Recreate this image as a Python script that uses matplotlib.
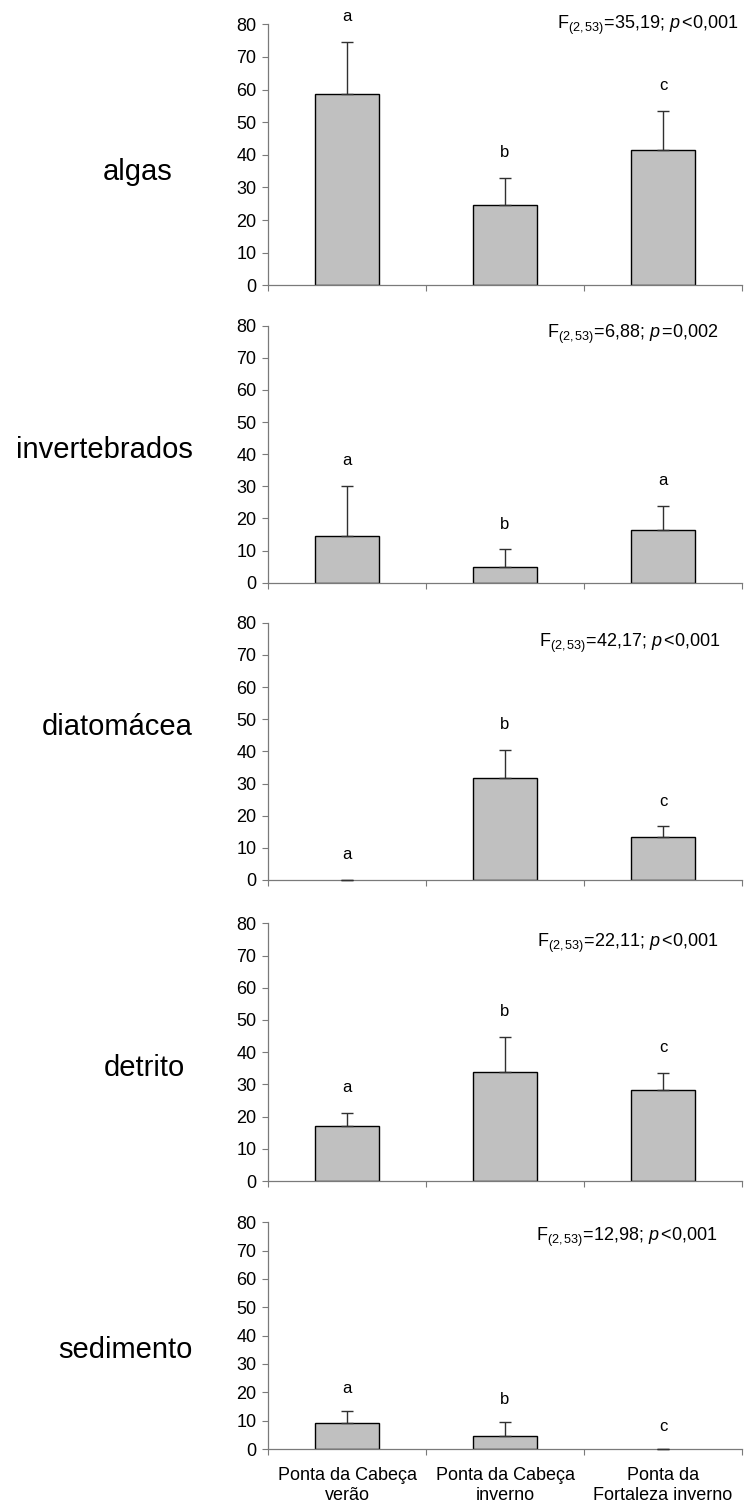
import matplotlib
matplotlib.use("Agg")
import matplotlib.pyplot as plt
import numpy as np

plt.rcParams['font.family'] = ['Liberation Sans', 'DejaVu Sans']
plt.rcParams['mathtext.fontset'] = 'custom'
plt.rcParams['mathtext.rm'] = 'Liberation Sans'
plt.rcParams['mathtext.it'] = 'Liberation Sans:italic'

# ---------------- data ----------------
categories = ["Ponta da Cabeça\nverão", "Ponta da Cabeça\ninverno", "Ponta da\nFortaleza inverno"]
panel_names = ["algas", "invertebrados", "diatomácea", "detrito", "sedimento"]

algas_mean = [58.5, 24.6, 41.6]
algas_err = [16.2, 8.2, 11.7]
invert_mean = [14.6, 4.8, 16.5]
invert_err = [15.6, 5.6, 7.5]
diato_mean = [0.0, 31.8, 13.5]
diato_err = [0.0, 8.7, 3.2]
detrito_mean = [17.2, 33.9, 28.2]
detrito_err = [4.0, 10.8, 5.4]
sedim_mean = [9.1, 4.6, 0.0]
sedim_err = [4.3, 5.0, 0.0]

letters_algas = ["a", "b", "c"]
letters_invert = ["a", "b", "a"]
letters_diato = ["a", "b", "c"]
letters_detrito = ["a", "b", "c"]
letters_sedim = ["a", "b", "c"]

stats_text = [
    r"F$_{(2,53)}$=35,19; $p\,$<0,001",
    r"F$_{(2,53)}$=6,88; $p\,$=0,002",
    r"F$_{(2,53)}$=42,17; $p\,$<0,001",
    r"F$_{(2,53)}$=22,11; $p\,$<0,001",
    r"F$_{(2,53)}$=12,98; $p\,$<0,001",
]
yticks = [0, 10, 20, 30, 40, 50, 60, 70, 80]

means = [algas_mean, invert_mean, diato_mean, detrito_mean, sedim_mean]
errs = [algas_err, invert_err, diato_err, detrito_err, sedim_err]
letters = [letters_algas, letters_invert, letters_diato, letters_detrito, letters_sedim]

# ---------------- layout (pixels) ----------------
W, H = 744, 1510
fig = plt.figure(figsize=(W / 100, H / 100), dpi=100)

ax_left, ax_right = 268, 742
panel_px = [(24.3, 285.3), (325.7, 582.7), (622.7, 880.0), (923.3, 1181.0), (1222.3, 1449.0)]
label_right = [173, 193, 193, 185, 193]
label_y = [172, 450, 727, 1068, 1350]
stats_left = [557, 547, 539, 537, 536]
stats_y = [25, 334, 643, 943, 1237]

spine_col = "#7a7a7a"
x = np.arange(len(categories))

for i in range(5):
    top, bot = panel_px[i]
    ax = fig.add_axes([ax_left / W, 1 - bot / H, (ax_right - ax_left) / W, (bot - top) / H])
    lws = [1.0 if m > 0 else 0.0 for m in means[i]]
    ax.bar(x, means[i], width=0.4, color="#C0C0C0", edgecolor="black", linewidth=lws, zorder=2)
    ax.errorbar(x, means[i], yerr=[np.zeros(3), errs[i]], fmt="none", ecolor="#303030",
                elinewidth=1.0, capsize=4, capthick=1.0, zorder=3, clip_on=False)
    for xi, m, e, lt in zip(x, means[i], errs[i], letters[i]):
        ax.text(xi, m + e + 7.8, lt, ha="center", va="center", fontsize=12, clip_on=False)

    ax.set_xlim(-0.5, 2.5)
    ax.set_ylim(0, 80)
    ax.set_yticks(yticks)
    ax.tick_params(axis="y", direction="out", length=4.3, width=0.8, color=spine_col,
                   labelsize=13, pad=4)
    ax.set_xticks(x)
    ax.set_xticks([-0.5, 0.5, 1.5, 2.5], minor=True)
    ax.tick_params(axis="x", which="major", length=0, labelsize=13, pad=13)
    ax.tick_params(axis="x", which="minor", direction="out", length=4.3, width=0.8, color=spine_col)
    if i == 4:
        ax.set_xticklabels(categories)
    else:
        ax.set_xticklabels([])
    for s in ["top", "right"]:
        ax.spines[s].set_visible(False)
    for s in ["left", "bottom"]:
        ax.spines[s].set_color(spine_col)
        ax.spines[s].set_linewidth(0.9)

    fig.text(label_right[i] / W, 1 - label_y[i] / H, panel_names[i], ha="right", va="center",
             fontsize=21)
    fig.text(stats_left[i] / W, 1 - stats_y[i] / H, stats_text[i], ha="left", va="center",
             fontsize=13)

fig.savefig("out.png", dpi=100)
